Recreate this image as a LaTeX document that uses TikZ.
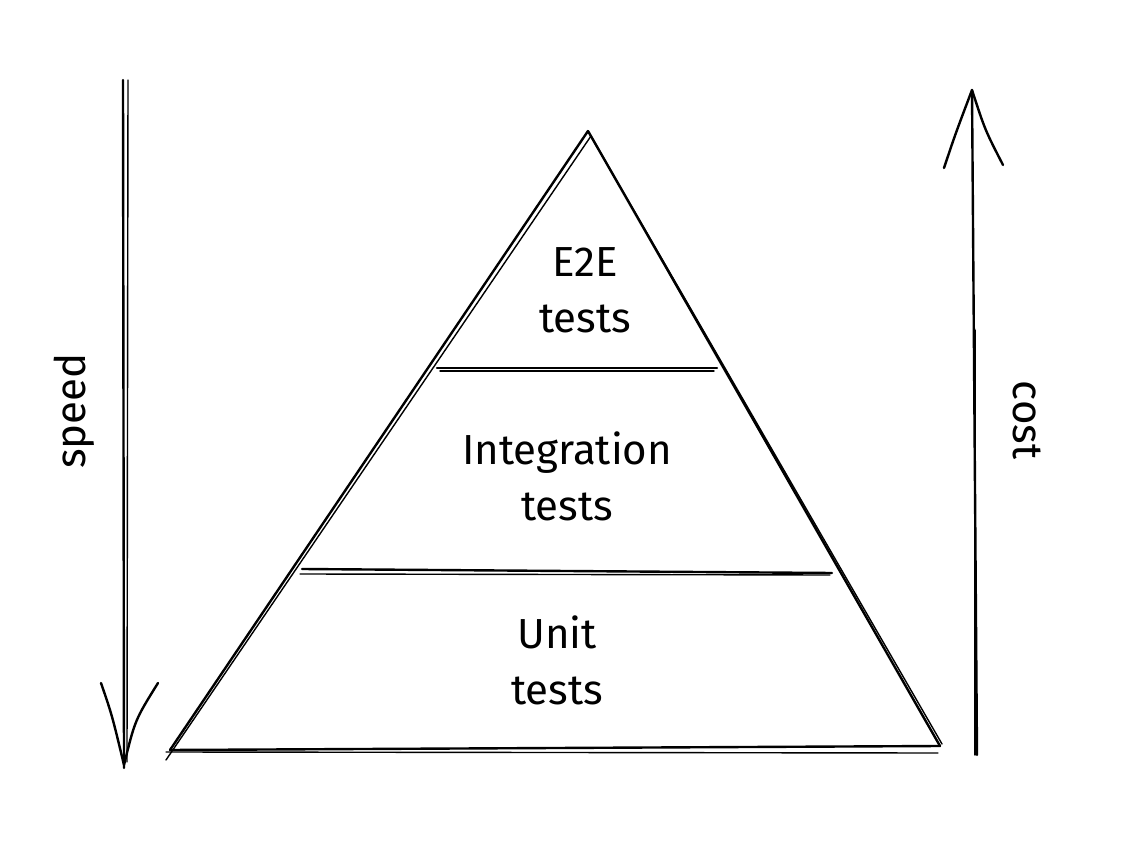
\documentclass[tikz,border=0pt]{standalone}
\usepackage{fontspec}
\setmainfont{Fira Sans}
\begin{document}
\begin{tikzpicture}[x=0.5pt,y=-0.5pt,
  sk/.style={line width=1.2pt,line cap=round,line join=round,black},
  sk2/.style={line width=0.7pt,line cap=round,line join=round,black},
  lbl/.style={font=\fontsize{21}{28}\selectfont,align=center,inner sep=0pt}]
\useasboundingbox (0,0) rectangle (1130,844);
% pyramid vertices
\coordinate (A) at (588,131);
\coordinate (BL) at (170,750);
\coordinate (BR) at (940,746);
\coordinate (A2) at (591,136);
\coordinate (BL2) at (166,760);
\coordinate (BR2) at (942,744);
% edges, drawn twice for sketch look
\draw[sk] (A) -- (BL);
\draw[sk2] (A2) -- (BL2);
\draw[sk] (A) -- (BR);
\draw[sk2] (A2) -- (BR2);
\draw[sk] (BL) -- (BR);
\draw[sk2] (166,752) -- (938,753);
% layer separators
\coordinate (L1a) at (437,368); \coordinate (L1b) at (717,368);
\draw[sk] (L1a) -- (L1b);
\draw[sk2] (440,371) -- (714,371);
\coordinate (L2a) at (302,569); \coordinate (L2b) at (832,573);
\draw[sk] (L2a) -- (L2b);
\draw[sk2] (300,574) -- (830,575);
% labels
\node[lbl] (e2e) at (585,290) {E2E\\tests};
\node[lbl] (integ) at (567,476) {Integration\\tests};
\node[lbl] (unit) at (557,660) {Unit\\tests};
% speed arrow
\coordinate (S0) at (123,80); \coordinate (S1) at (124,768);
\draw[sk] (S0) -- (S1);
\draw[sk2] (128,80) -- (127,762);
\coordinate (Sl) at (101,683); \coordinate (Sr) at (158,683);
\draw[sk] (Sl) .. controls (112,715) .. (124,765) .. controls (135,720) .. (Sr);
\node[lbl,rotate=90] (speed) at (74,411) {speed};
% cost arrow
\coordinate (C0) at (977,755); \coordinate (C1) at (972,90);
\draw[sk] (C0) -- (C1);
\draw[sk2] (975,755) -- (975,330);
\coordinate (Cl) at (944,168); \coordinate (Cr) at (1003,165);
\draw[sk] (Cl) .. controls (955,135) .. (972,90) .. controls (985,130) .. (Cr);
\node[lbl,rotate=-90] (cost) at (1027,420) {cost};
\end{tikzpicture}
\end{document}
